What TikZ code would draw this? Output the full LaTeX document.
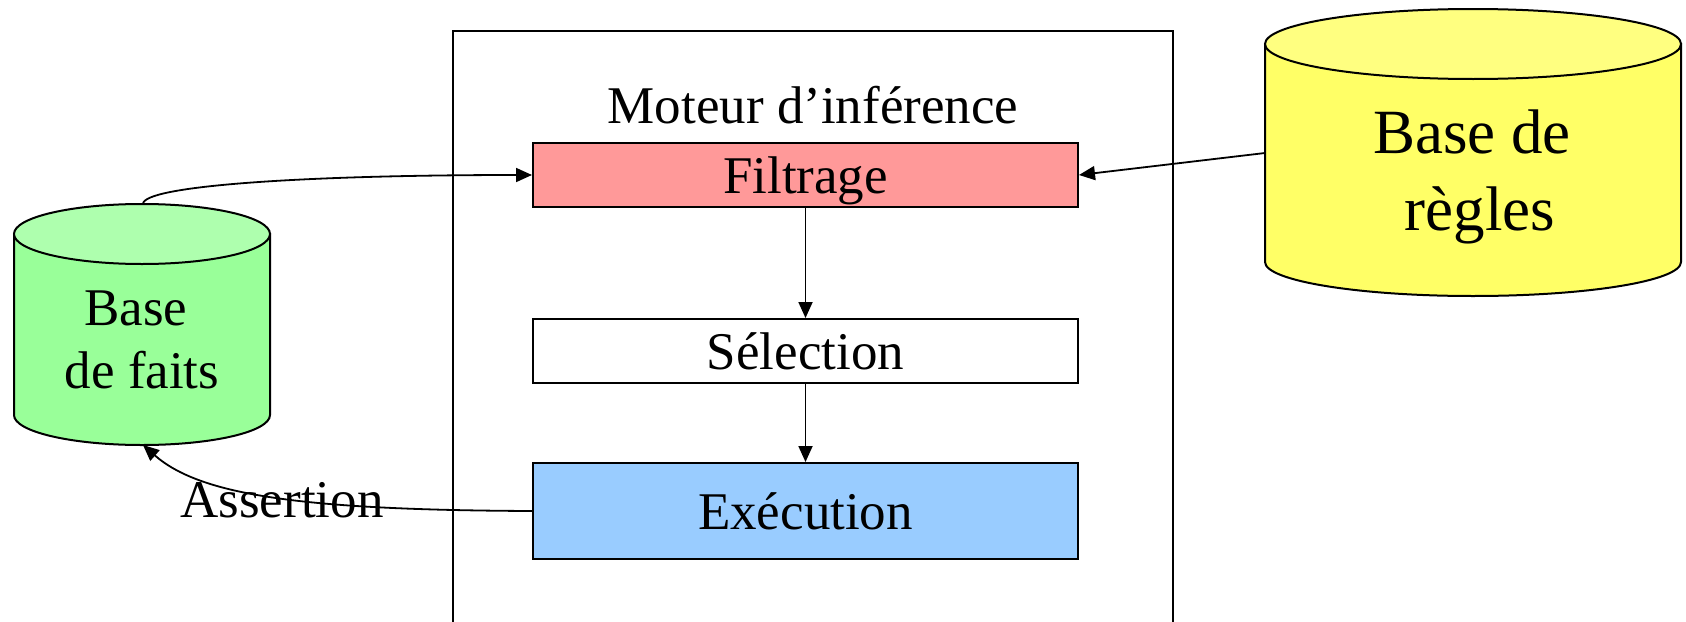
\documentclass[tikz,border=0pt]{standalone}
\usepackage{fontspec}
\setmainfont{Liberation Serif}
\usetikzlibrary{arrows.meta}
\definecolor{gside}{HTML}{99FF99}
\definecolor{gtopc}{HTML}{AEFFAE}
\definecolor{yside}{HTML}{FFFF66}
\definecolor{ytopc}{HTML}{FFFF80}
\definecolor{pinkf}{HTML}{FF9999}
\definecolor{bluef}{HTML}{99CCFF}
\tikzset{
  txt/.style={font=\fontsize{53}{62}\selectfont, inner sep=0pt, anchor=base},
  bigtxt/.style={font=\fontsize{63}{77}\selectfont, inner sep=0pt, anchor=base},
  stagebox/.style={draw=black, line width=2pt, minimum width=545pt, inner sep=0pt,
    font=\fontsize{53}{62}\selectfont, text height=36pt, text depth=0pt},
  conn/.style={line width=1.8pt, -{Triangle[length=16pt,width=14pt]}},
  cyl/.style={draw=black, line width=2pt}
}
\begin{document}
\begin{tikzpicture}[x=1pt,y=-1pt]
\useasboundingbox (0,0) rectangle (1686,621);
% inference engine frame
\draw[line width=2pt] (453,630) -- (453,31) -- (1173,31) -- (1173,630);
\node[txt] (mot) at (813,123) {Moteur d’inférence};
% stages
\node[stagebox, fill=pinkf, minimum height=64pt] (F) at (805.5,175) {Filtrage};
\node[stagebox, fill=white, minimum height=64pt] (S) at (805.5,351) {Sélection};
\node[stagebox, fill=bluef, minimum height=96pt] (E) at (805.5,511) {Exécution};
% green cylinder (Base de faits)
\filldraw[cyl, fill=gside] (14,234) -- (14,415)
  arc[start angle=180, end angle=360, x radius=128pt, y radius=30pt] -- (270,234) -- cycle;
\filldraw[cyl, fill=gtopc] (142,234) ellipse [x radius=128pt, y radius=30pt];
\node[txt] (bf1) at (136,325) {Base};
\node[txt] (bf2) at (142,388) {de faits};
\coordinate (gtop) at (143,204);
\coordinate (gbot) at (143,445);
% yellow cylinder (Base de regles)
\filldraw[cyl, fill=yside] (1265,44) -- (1265,262)
  arc[start angle=180, end angle=360, x radius=208pt, y radius=34pt] -- (1681,44) -- cycle;
\filldraw[cyl, fill=ytopc] (1473,44) ellipse [x radius=208pt, y radius=35pt];
\node[bigtxt] (br1) at (1472,153) {Base de};
\node[bigtxt] (br2) at (1480,230) {règles};
\coordinate (yleft) at (1265,153);
% connectors
\draw[conn] (F.south) -- (S.north);
\draw[conn] (S.south) -- (E.north);
\draw[conn] (yleft) -- (F.east);
\draw[conn] (gtop) .. controls (143,186) and (300,175) .. (F.west);
\draw[conn] (E.west) .. controls (300,510) and (200,495) .. (gbot);
\node[txt] (as) at (282,517) {Assertion};
\end{tikzpicture}
\end{document}
